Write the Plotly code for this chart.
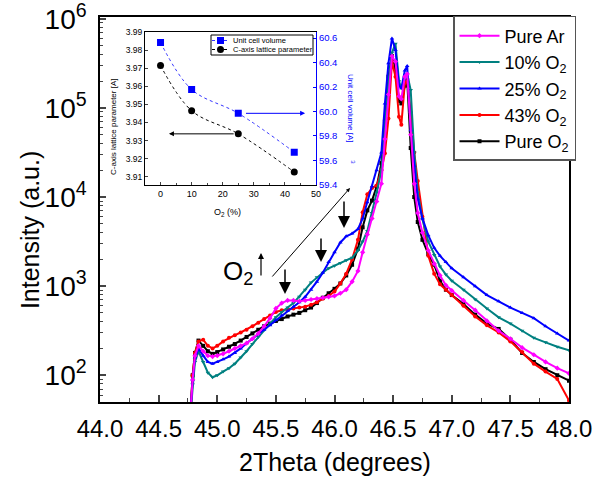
import plotly.graph_objects as go

# ---------------- main XRD data ----------------
two_theta = [44.77, 44.79, 44.81, 44.84, 44.88, 44.92, 44.96, 45.00, 45.05, 45.10,
             45.15, 45.20, 45.25, 45.30, 45.35, 45.40, 45.45, 45.50, 45.55, 45.60,
             45.65, 45.70, 45.75, 45.80, 45.85, 45.90, 45.95, 46.00, 46.05, 46.10,
             46.15, 46.20, 46.24, 46.28, 46.32, 46.36, 46.40, 46.43, 46.46, 46.49,
             46.52, 46.55, 46.57, 46.60, 46.62, 46.65, 46.68, 46.71, 46.75, 46.80,
             46.85, 46.90, 46.95, 47.00, 47.10, 47.20, 47.30, 47.40, 47.50, 47.60,
             47.70, 47.80, 47.90, 48.00]

pure_ar = [35, 89, 166, 214, 186, 166, 162, 166, 174, 186,
           200, 214, 229, 257, 295, 355, 437, 562, 646, 692,
           692, 676, 692, 708, 724, 741, 759, 776, 832, 912,
           1122, 1479, 2399, 3802, 5754, 8913, 14130, 44670, 141300, 380200,
           331100, 134900, 125900, 223900, 239900, 50120, 14130, 6607, 3981, 2512,
           1778, 1318, 1023, 891, 692, 537, 407, 316, 257, 204,
           170, 141, 120, 105]

o2_10 = [35, 79, 141, 186, 141, 107, 95, 100, 110, 120,
         135, 158, 186, 224, 269, 324, 380, 447, 513, 575,
         646, 759, 912, 1096, 1259, 1413, 1585, 1698, 1820, 1950,
         2089, 2512, 3162, 4169, 6607, 11220, 19950, 70790, 199500, 416900,
         524800, 199500, 166000, 213800, 239900, 158500, 31620, 11220, 5623, 3162,
         2239, 1660, 1349, 1148, 912, 708, 562, 447, 380, 316,
         263, 234, 209, 191]

o2_25 = [35, 89, 158, 200, 166, 141, 135, 141, 151, 162,
         178, 200, 229, 257, 288, 324, 363, 417, 468, 525,
         589, 661, 759, 912, 1122, 1413, 1862, 2399, 3090, 3631,
         3890, 4365, 5754, 8710, 13180, 19950, 31620, 112200, 316200, 602600,
         446700, 177800, 166000, 263000, 295100, 56230, 22390, 9550, 5754, 3715,
         2692, 2188, 1862, 1585, 1259, 1000, 794, 676, 575, 501,
         437, 355, 295, 245]

o2_43 = [35, 100, 178, 240, 251, 214, 200, 214, 240, 263,
         282, 302, 324, 355, 389, 427, 468, 513, 537, 550,
         562, 575, 589, 617, 661, 724, 776, 871, 1072, 1380,
         1995, 3311, 6761, 10720, 12590, 13490, 19950, 30900, 75860, 331100,
         223900, 79430, 64570, 190500, 199500, 89130, 31620, 15140, 6026, 2188,
         1380, 1047, 912, 794, 603, 457, 363, 302, 240, 182,
         135, 110, 91, 52]

pure_o2 = [35, 100, 178, 245, 214, 186, 174, 182, 195, 209,
           224, 245, 269, 295, 324, 355, 380, 407, 427, 457,
           479, 501, 537, 575, 646, 741, 832, 933, 1072, 1318,
           1738, 2630, 4571, 7079, 9120, 13180, 23990, 70790, 223900, 380200,
           281800, 120200, 112200, 177800, 204200, 35480, 10000, 5248, 3311, 2291,
           1738, 1148, 912, 794, 631, 479, 380, 331, 251, 178,
           141, 117, 100, 87]

series_names = ["Pure Ar", "10% O<sub>2</sub>", "25% O<sub>2</sub>",
                "43% O<sub>2</sub>", "Pure O<sub>2</sub>"]

# ---------------- inset data ----------------
inset_o2 = [0, 10, 25, 43]
unit_cell_volume = [60.565, 60.18, 59.985, 59.667]
c_axis_param = [3.9715, 3.9465, 3.9337, 3.9126]
inset_names = ["Unit cell volume", "C-axis lattice parameter"]

FONT = "Liberation Sans, Arial, Helvetica, sans-serif"

fig = go.Figure()

styles = [
    (4, pure_o2, "#000000", "square", 5),
    (3, o2_43, "#ff0000", "circle", 4),
    (1, o2_10, "#008080", "triangle-down", 2),
    (2, o2_25, "#0000ff", "triangle-up", 3),
    (0, pure_ar, "#ff00ff", "diamond", 1),
]
for idx, ys, col, sym, rank in styles:
    fig.add_trace(go.Scatter(
        x=two_theta, y=ys, name=series_names[idx], mode="lines+markers",
        line=dict(color=col, width=2),
        marker=dict(color=col, symbol=sym, size=4),
        legendrank=rank, xaxis="x", yaxis="y"))

# inset traces
fig.add_trace(go.Scatter(
    x=inset_o2, y=unit_cell_volume, name=inset_names[0], showlegend=False,
    mode="lines+markers", line=dict(color="#3333ff", width=1, dash="dot", shape="spline"),
    marker=dict(color="#0000ff", symbol="square", size=7),
    xaxis="x2", yaxis="y3"))
fig.add_trace(go.Scatter(
    x=inset_o2, y=c_axis_param, name=inset_names[1], showlegend=False,
    mode="lines+markers", line=dict(color="#000000", width=1, dash="dot", shape="spline"),
    marker=dict(color="#000000", symbol="circle", size=7),
    xaxis="x2", yaxis="y2"))

major_vals = [100, 1000, 10000, 100000, 1000000]
major_text = ["10<sup>2</sup>", "10<sup>3</sup>", "10<sup>4</sup>",
              "10<sup>5</sup>", "10<sup>6</sup>"]
minor_vals = [m * 10 ** e for e in range(1, 6) for m in range(2, 10)]

fig.update_layout(
    width=606, height=480,
    margin=dict(l=100, r=37, t=17, b=78, autoexpand=False),
    paper_bgcolor="white", plot_bgcolor="white",
    font=dict(family=FONT, color="black"),
    xaxis=dict(
        domain=[0, 1], range=[44, 48], tick0=44, dtick=0.5, tickformat=".1f",
        ticks="inside", ticklen=7, tickwidth=1.5, ticklabelstandoff=4,
        ticklabeloverflow="allow", automargin=False,
        minor=dict(ticks="inside", ticklen=4, dtick=0.25, tickwidth=1.2),
        showline=True, linewidth=1.5, linecolor="black", mirror=True,
        showgrid=False, zeroline=False, tickfont=dict(size=24)),
    yaxis=dict(
        domain=[0, 1], type="log", range=[1.7, 6.02],
        tickmode="array", tickvals=major_vals, ticktext=major_text,
        ticks="inside", ticklen=6, tickwidth=1.5, ticklabelstandoff=6,
        ticklabeloverflow="allow", automargin=False,
        minor=dict(ticks="inside", ticklen=3, tickmode="array",
                   tickvals=minor_vals, tickwidth=1),
        showline=True, linewidth=1.5, linecolor="black", mirror=True,
        showgrid=False, zeroline=False, tickfont=dict(size=28)),
    xaxis2=dict(
        domain=[0.0959, 0.4606], anchor="y2", range=[-5, 50], dtick=10,
        ticks="inside", ticklen=3, tickwidth=1, automargin=False,
        minor=dict(ticks="inside", ticklen=2, dtick=5),
        showline=True, linewidth=1, linecolor="black", mirror=True,
        showgrid=False, zeroline=False, tickfont=dict(size=9)),
    yaxis2=dict(
        domain=[0.564, 0.961], anchor="x2", range=[3.9055, 3.99], dtick=0.01,
        tickformat=".2f", ticks="inside", ticklen=3, tickwidth=1, automargin=False,
        showline=True, linewidth=1, linecolor="black",
        showgrid=False, zeroline=False, tickfont=dict(size=8.5)),
    yaxis3=dict(
        overlaying="y2", side="right", anchor="x2", range=[59.4, 60.65],
        dtick=0.2, tickformat=".1f", ticks="inside", ticklen=3, tickwidth=1,
        tickcolor="#0000ff", showline=True, linewidth=1, linecolor="#0000ff",
        showgrid=False, zeroline=False, automargin=False,
        tickfont=dict(size=9.5, color="#0000ff")),
    legend=dict(
        x=0.7527, y=1.0026, xanchor="left", yanchor="top",
        bgcolor="white", bordercolor="#555555", borderwidth=1.5,
        font=dict(size=18), itemwidth=40, tracegroupgap=0),
)

# ---- inset legend drawn by hand (box, samples, labels) ----
def px_x(p):
    return (p - 100) / 469.0

def px_y(p):
    return (402 - p) / 385.0

shapes = [
    dict(type="rect", xref="paper", yref="paper", x0=px_x(211), x1=px_x(313),
         y0=px_y(55), y1=px_y(35), line=dict(color="black", width=1),
         fillcolor="white", layer="above"),
]
rows = [(40.5, "#3333ff", "#0000ff", "rect"), (49.5, "#000000", "#000000", "circle")]
annotations = []
for (ry, lc, mc, kind), label in zip(rows, inset_names):
    shapes.append(dict(type="line", xref="paper", yref="paper",
                       x0=px_x(212), x1=px_x(229), y0=px_y(ry), y1=px_y(ry),
                       line=dict(color=lc, width=1, dash="dot"), layer="above"))
    shapes.append(dict(type=kind, xref="paper", yref="paper",
                       x0=px_x(217), x1=px_x(224), y0=px_y(ry + 3.5), y1=px_y(ry - 3.5),
                       line=dict(color=mc, width=0), fillcolor=mc, layer="above"))
    annotations.append(dict(text=label, x=px_x(231), y=px_y(ry), xref="paper",
                            yref="paper", showarrow=False, font=dict(size=7.5),
                            xanchor="left", yanchor="middle"))

annotations += [
    dict(text="2Theta (degrees)", x=0.5, y=px_y(462), xref="paper", yref="paper",
         showarrow=False, font=dict(size=25), xanchor="center", yanchor="middle"),
    dict(text="Intensity (a.u.)", x=-0.149, y=px_y(230), xref="paper", yref="paper",
         showarrow=False, font=dict(size=25), textangle=-90,
         xanchor="center", yanchor="middle"),
    dict(text="C-axis lattice parameter [A]", x=0.0277, y=px_y(127), xref="paper",
         yref="paper", showarrow=False, font=dict(size=8), textangle=-90,
         xanchor="center", yanchor="middle"),
    dict(text="Unit cell volume [A]", x=0.533, y=px_y(108), xref="paper",
         yref="paper", showarrow=False, font=dict(size=8, color="#0000ff"),
         textangle=90, xanchor="center", yanchor="middle"),
    dict(text="3", x=0.539, y=px_y(162), xref="paper", yref="paper",
         showarrow=False, font=dict(size=6, color="#0000ff"), textangle=90,
         xanchor="center", yanchor="middle"),
    dict(text="O<sub>2</sub> (%)", x=0.2729, y=px_y(213), xref="paper", yref="paper",
         showarrow=False, font=dict(size=9), xanchor="center", yanchor="middle"),
    dict(x=2.7, y=3.9337, xref="x2", yref="y2", ax=24, ay=3.9337,
         axref="x2", ayref="y2", showarrow=True, arrowhead=2, arrowsize=1,
         arrowwidth=1, arrowcolor="black", text=""),
    dict(x=46.5, y=59.985, xref="x2", yref="y3", ax=27, ay=59.985,
         axref="x2", ayref="y3", showarrow=True, arrowhead=2, arrowsize=1,
         arrowwidth=1, arrowcolor="#0000ff", text=""),
    dict(text="O<sub>2</sub>", x=0.294, y=px_y(272), xref="paper", yref="paper",
         showarrow=False, font=dict(size=26), xanchor="center", yanchor="middle"),
    dict(x=px_x(261), y=px_y(253), xref="paper", yref="paper", ax=0, ay=24,
         showarrow=True, arrowhead=2, arrowsize=1, arrowwidth=1.2,
         arrowcolor="black", text=""),
    dict(x=px_x(350), y=px_y(188), xref="paper", yref="paper", ax=-79, ay=90,
         showarrow=True, arrowhead=2, arrowsize=0.8, arrowwidth=1,
         arrowcolor="black", text=""),
    dict(x=px_x(285), y=px_y(294), xref="paper", yref="paper", ax=0, ay=-26,
         showarrow=True, arrowhead=2, arrowsize=1.6, arrowwidth=1.5,
         arrowcolor="black", text=""),
    dict(x=px_x(321), y=px_y(262), xref="paper", yref="paper", ax=0, ay=-25,
         showarrow=True, arrowhead=2, arrowsize=1.6, arrowwidth=1.5,
         arrowcolor="black", text=""),
    dict(x=px_x(344), y=px_y(228), xref="paper", yref="paper", ax=0, ay=-28,
         showarrow=True, arrowhead=2, arrowsize=1.6, arrowwidth=1.5,
         arrowcolor="black", text=""),
]
fig.update_layout(annotations=annotations, shapes=shapes)

fig.write_html("out.html")
